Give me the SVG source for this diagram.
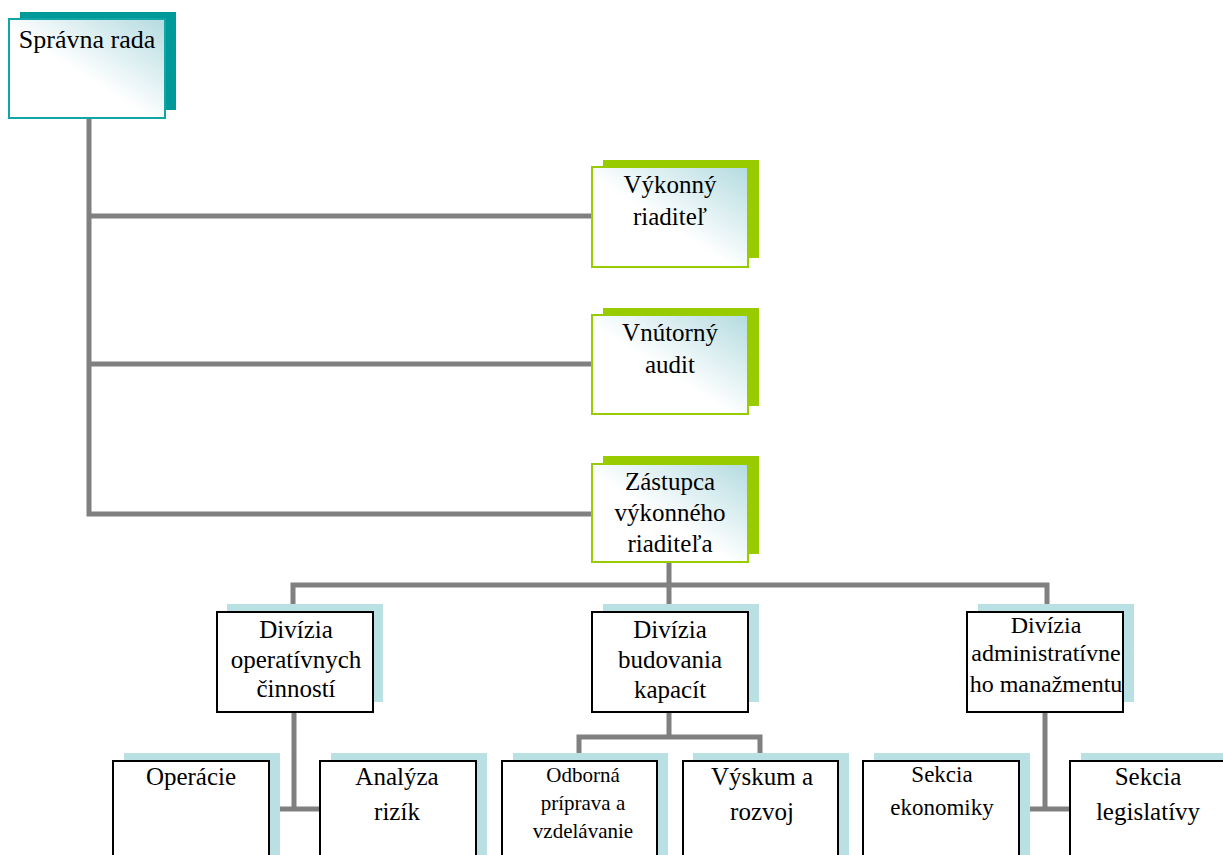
<svg xmlns="http://www.w3.org/2000/svg" width="1223" height="855" viewBox="0 0 1223 855">
<defs>
<linearGradient id="g" x1="0" y1="1" x2="1" y2="0">
<stop offset="0.45" stop-color="#ffffff"/>
<stop offset="1" stop-color="#b3dbe0"/>
</linearGradient>
<style>
.t{font-family:'Liberation Serif','DejaVu Serif',serif;font-size:25px;fill:#000;text-anchor:middle}
.s21{font-size:21px}
.s23{font-size:23px}
.s24{font-size:24px}
.teal{fill:#009999}
.green{fill:#99cc00}
.lb{fill:#b9e0e3}
.ft{fill:url(#g);stroke:#12a5a5;stroke-width:2}
.fg{fill:url(#g);stroke:#99cc00;stroke-width:2}
.fb{fill:#fff;stroke:#000;stroke-width:2}
.c{fill:none;stroke:#808080;stroke-width:5}
</style>
</defs>
<rect width="1223" height="855" fill="#fff"/>
<g id="connectors">
<path class="c" d="M89 118 V514 H592 M89 216 H592 M89 364 H592"/>
<path class="c" d="M669 562 V585 M293 612 V585 H1047 V612 M669 585 V612"/>
<path class="c" d="M294 712 V809 M280 809 H320"/>
<path class="c" d="M669 712 V737 M579 753 V737 H760 V753"/>
<path class="c" d="M1045 712 V809 M1030 809 H1070"/>
</g>
<g id="spravna-rada">
<rect class="teal" x="20" y="12" width="156" height="98"/>
<rect class="ft" x="9" y="19" width="156" height="99"/>
<text class="t" x="87" y="48" font-family="Liberation Serif" style="font-size:26px">Správna rada</text>
</g>
<g id="vykonny-riaditel">
<rect class="green" x="603" y="160" width="156" height="98"/>
<rect class="fg" x="592" y="167" width="156" height="100"/>
<text class="t" x="670" y="193">Výkonný</text>
<text class="t" x="670" y="225">riaditeľ</text>
</g>
<g id="vnutorny-audit">
<rect class="green" x="603" y="308" width="156" height="98"/>
<rect class="fg" x="592" y="315" width="156" height="99"/>
<text class="t" x="670" y="341">Vnútorný</text>
<text class="t" x="670" y="373">audit</text>
</g>
<g id="zastupca">
<rect class="green" x="603" y="456" width="156" height="98"/>
<rect class="fg" x="592" y="464" width="156" height="98"/>
<text class="t" x="670" y="490">Zástupca</text>
<text class="t" x="670" y="521">výkonného</text>
<text class="t" x="670" y="552">riaditeľa</text>
</g>
<g id="divizia-operativnych">
<rect class="lb" x="227" y="604" width="156" height="98"/>
<rect class="fb" x="217" y="612" width="156" height="100"/>
<text class="t" x="296" y="638">Divízia</text>
<text class="t" x="296" y="668">operatívnych</text>
<text class="t" x="296" y="697">činností</text>
</g>
<g id="divizia-budovania">
<rect class="lb" x="603" y="604" width="156" height="98"/>
<rect class="fb" x="592" y="612" width="156" height="100"/>
<text class="t" x="670" y="638">Divízia</text>
<text class="t" x="670" y="668">budovania</text>
<text class="t" x="670" y="698">kapacít</text>
</g>
<g id="divizia-administrativneho">
<rect class="lb" x="978" y="604" width="156" height="98"/>
<rect class="fb" x="967" y="612" width="156" height="100"/>
<text class="t s24" x="1046" y="633">Divízia</text>
<text class="t s24" x="1046" y="661">administratívne</text>
<text class="t s24" x="1046" y="692">ho manažmentu</text>
</g>
<g id="operacie">
<rect class="lb" x="124" y="753" width="156" height="110"/>
<rect class="fb" x="113" y="761" width="156" height="110"/>
<text class="t" x="191" y="785">Operácie</text>
</g>
<g id="analyza-rizik">
<rect class="lb" x="331" y="753" width="156" height="110"/>
<rect class="fb" x="320" y="761" width="156" height="110"/>
<text class="t" x="397" y="785">Analýza</text>
<text class="t" x="397" y="820">rizík</text>
</g>
<g id="odborna-priprava">
<rect class="lb" x="513" y="753" width="155" height="110"/>
<rect class="fb" x="502" y="761" width="155" height="110"/>
<text class="t s21" x="583" y="782">Odborná</text>
<text class="t s21" x="583" y="810">príprava a</text>
<text class="t s21" x="583" y="838">vzdelávanie</text>
</g>
<g id="vyskum-rozvoj">
<rect class="lb" x="693" y="753" width="156" height="110"/>
<rect class="fb" x="683" y="761" width="155" height="110"/>
<text class="t" x="762" y="785">Výskum a</text>
<text class="t" x="762" y="820">rozvoj</text>
</g>
<g id="sekcia-ekonomiky">
<rect class="lb" x="874" y="753" width="156" height="110"/>
<rect class="fb" x="863" y="761" width="156" height="110"/>
<text class="t s23" x="942" y="782">Sekcia</text>
<text class="t s23" x="942" y="815">ekonomiky</text>
</g>
<g id="sekcia-legislativy">
<rect class="lb" x="1081" y="753" width="156" height="110"/>
<rect class="fb" x="1070" y="761" width="156" height="110"/>
<text class="t" x="1148" y="785">Sekcia</text>
<text class="t" x="1148" y="820">legislatívy</text>
</g>
</svg>
